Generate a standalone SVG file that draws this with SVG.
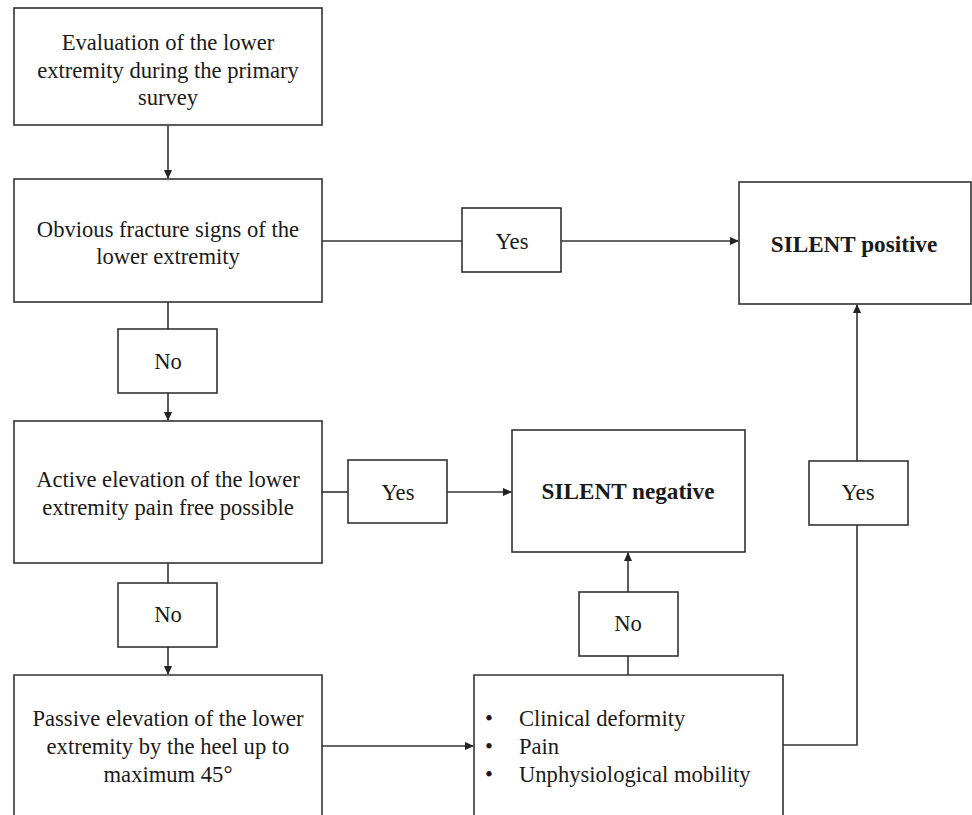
<svg xmlns="http://www.w3.org/2000/svg" width="972" height="815" viewBox="0 0 972 815">
<style>
.box{fill:#fff;stroke:#333;stroke-width:1.6}
.c{fill:none;stroke:#333;stroke-width:1.6}
</style>
<defs>
<marker id="ah" markerWidth="10" markerHeight="10" refX="8" refY="5" orient="auto" markerUnits="userSpaceOnUse">
<path d="M0,1 L9,5 L0,9 Z" fill="#222"/>
</marker>
</defs>
<rect width="972" height="815" fill="#fff"/>
<g id="connectors">
<path class="c" d="M168,126 V178" marker-end="url(#ah)"/>
<path class="c" d="M322,241 H462"/>
<path class="c" d="M561,241 H738" marker-end="url(#ah)"/>
<path class="c" d="M168,302 V329"/>
<path class="c" d="M168,393 V420" marker-end="url(#ah)"/>
<path class="c" d="M322,492 H348"/>
<path class="c" d="M447,492 H511" marker-end="url(#ah)"/>
<path class="c" d="M168,560 V583"/>
<path class="c" d="M168,647 V674" marker-end="url(#ah)"/>
<path class="c" d="M322,746 H473" marker-end="url(#ah)"/>
<path class="c" d="M628,675 V656"/>
<path class="c" d="M628,592 V553" marker-end="url(#ah)"/>
<path class="c" d="M783,745 H857 V525"/>
<path class="c" d="M857,461 V305" marker-end="url(#ah)"/>
</g>
<g font-family="'Liberation Serif', serif" font-size="22.6" fill="#1a1a1a" text-anchor="middle">
<g id="n1">
<rect class="box" x="14" y="8" width="308" height="117"/>
<text x="168" y="50">Evaluation of the lower</text>
<text x="168" y="78">extremity during the primary</text>
<text x="168" y="105">survey</text>
</g>
<g id="n2">
<rect class="box" x="14" y="179" width="308" height="123"/>
<text x="168" y="237">Obvious fracture signs of the</text>
<text x="168" y="264">lower extremity</text>
</g>
<g id="yes1">
<rect class="box" x="462" y="208" width="99" height="64"/>
<text x="512" y="249">Yes</text>
</g>
<g id="pos">
<rect class="box" x="739" y="182" width="232" height="122"/>
<text x="854" y="252" font-weight="bold" font-size="23.2">SILENT positive</text>
</g>
<g id="no1">
<rect class="box" x="118" y="329" width="99" height="64"/>
<text x="168" y="369">No</text>
</g>
<g id="n3">
<rect class="box" x="14" y="421" width="308" height="142"/>
<text x="168" y="487">Active elevation of the lower</text>
<text x="168" y="515">extremity pain free possible</text>
</g>
<g id="yes2">
<rect class="box" x="348" y="460" width="99" height="63"/>
<text x="398" y="500">Yes</text>
</g>
<g id="neg">
<rect class="box" x="512" y="430" width="233" height="122"/>
<text x="628" y="499" font-weight="bold" font-size="23.2">SILENT negative</text>
</g>
<g id="yes3">
<rect class="box" x="809" y="461" width="99" height="64"/>
<text x="858" y="500">Yes</text>
</g>
<g id="no2">
<rect class="box" x="118" y="583" width="99" height="64"/>
<text x="168" y="622">No</text>
</g>
<g id="no3">
<rect class="box" x="579" y="592" width="99" height="64"/>
<text x="628" y="631">No</text>
</g>
<g id="n4">
<path class="c" d="M14,816 V675 H322 V816"/>
<text x="168" y="726">Passive elevation of the lower</text>
<text x="168" y="754">extremity by the heel up to</text>
<text x="168" y="782">maximum 45°</text>
</g>
<g id="n5" text-anchor="start">
<path class="c" d="M474,816 V675 H783 V816"/>
<text x="485" y="726">•</text>
<text x="519" y="726">Clinical deformity</text>
<text x="485" y="754">•</text>
<text x="519" y="754">Pain</text>
<text x="485" y="782">•</text>
<text x="519" y="782">Unphysiological mobility</text>
</g>
</g>
</svg>
